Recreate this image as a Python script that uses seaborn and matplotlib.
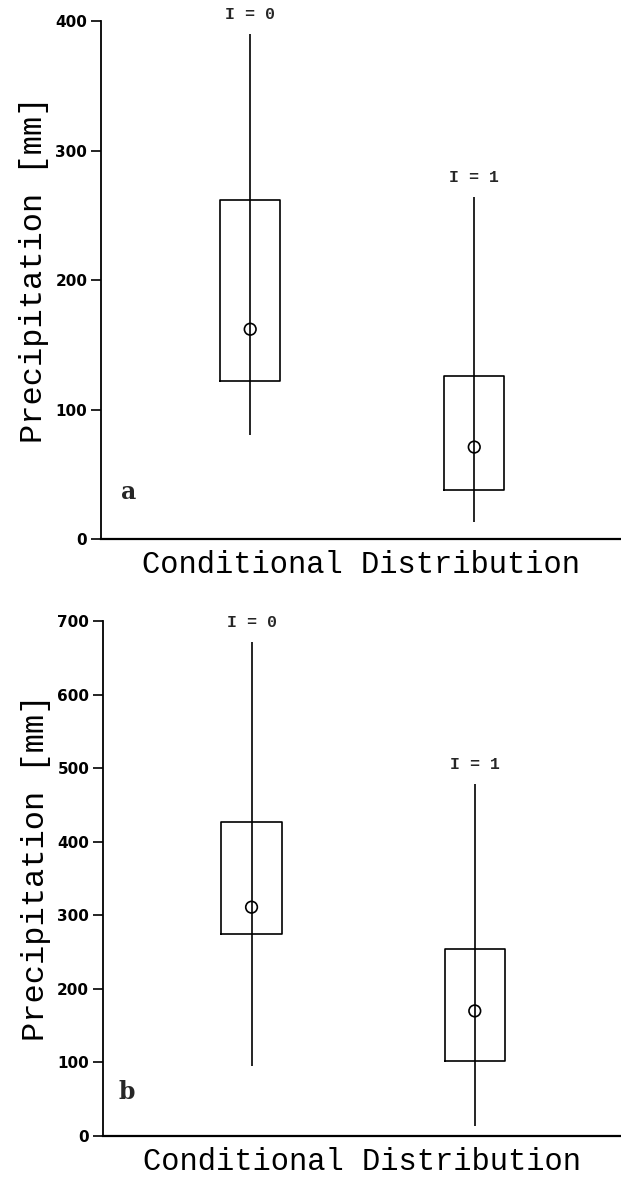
import numpy as np
import pandas as pd
import seaborn as sns
import matplotlib.pyplot as plt

# values (mm)
categories = ["I = 0", "I = 1"]

a_low = [80, 13]
a_q1 = [122, 38]
a_center = [162, 71]
a_q3 = [262, 126]
a_high = [390, 264]

b_low = [95, 13]
b_q1 = [275, 102]
b_center = [311, 170]
b_q3 = [427, 254]
b_high = [672, 478]

a_ticks = [0, 100, 200, 300, 400]
b_ticks = [0, 100, 200, 300, 400, 500, 600, 700]

sns.set_style("ticks")
plt.rcParams['font.family'] = ['Liberation Mono', 'DejaVu Serif']


def make_frame(low, q1, center, q3, high):
    # five points per group -> quartiles and range come out exactly
    rows = []
    for i, cat in enumerate(categories):
        for v in (low[i], q1[i], center[i], q3[i], high[i]):
            rows.append({'group': cat, 'value': v})
    return pd.DataFrame(rows)


def draw_panel(ax, low, q1, center, q3, high, ticks, letter, letter_pos):
    df = make_frame(low, q1, center, q3, high)
    sns.boxplot(data=df, x='group', y='value', order=categories, ax=ax,
                whis=(0, 100), width=0.27, fill=False, color='black',
                showcaps=False, linewidth=1.2,
                medianprops={'visible': False},
                whiskerprops={'linewidth': 1.2})
    pos = np.arange(len(categories))
    # range line also runs through the box
    ax.vlines(pos, q1, q3, color='black', linewidth=1.2)
    ax.scatter(pos, center, s=70, facecolors='none', edgecolors='black',
               linewidths=1.2, zorder=5)

    for x, top, lab in zip(pos, high, categories):
        ax.annotate(lab, (x, top), xytext=(0, 14), textcoords='offset points',
                    ha='center', va='center', fontsize=12, fontweight='bold',
                    annotation_clip=False)

    ax.set_xlim(-0.665, 1.655)
    ax.set_ylim(ticks[0], ticks[-1])
    ax.set_yticks(ticks)
    ax.set_xticks([])
    ax.tick_params(axis='y', direction='out', length=7, width=1.2,
                   labelsize=11, pad=3, colors='black')
    for t in ax.get_yticklabels():
        t.set_fontweight('bold')
        t.set_family('DejaVu Sans')
    sns.despine(ax=ax)
    ax.spines['left'].set_linewidth(1.3)
    ax.spines['bottom'].set_linewidth(1.6)
    ax.spines['left'].set_color('black')
    ax.spines['bottom'].set_color('black')

    ax.set_ylabel('Precipitation [mm]', fontsize=23, color='black')
    ax.yaxis.set_label_coords(-0.1, 0.52)
    ax.set_xlabel('Conditional Distribution', fontsize=22, labelpad=8,
                  color='black')
    ax.text(letter_pos[0], letter_pos[1], letter, transform=ax.transAxes,
            fontsize=17, fontweight='bold', ha='center', va='center',
            family='DejaVu Serif')


fig = plt.figure(figsize=(6.21, 11.81), dpi=100)
ax_a = fig.add_axes([0.163, 0.5436, 0.837, 0.4386])
ax_b = fig.add_axes([0.166, 0.0381, 0.834, 0.4361])

draw_panel(ax_a, a_low, a_q1, a_center, a_q3, a_high, a_ticks, 'a', (0.052, 0.09))
draw_panel(ax_b, b_low, b_q1, b_center, b_q3, b_high, b_ticks, 'b', (0.046, 0.085))

fig.savefig('out.png', dpi=100, facecolor='white')
